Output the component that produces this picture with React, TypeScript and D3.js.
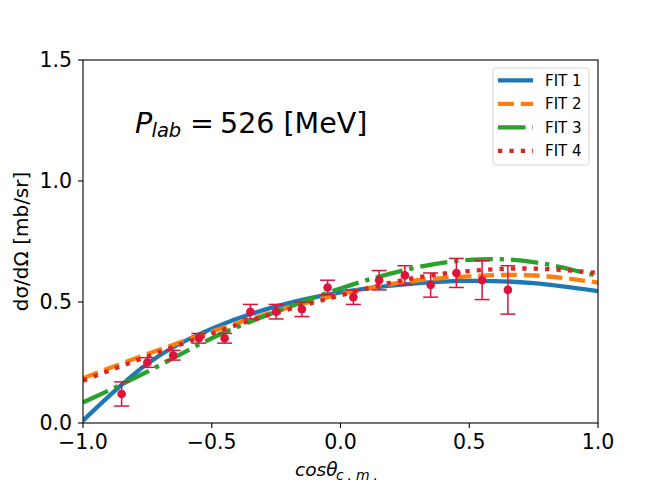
import * as d3 from 'd3';
import React, { useEffect, useRef } from 'react';

// measured points (cos theta, dsigma/dOmega, error)
const pointX = [-0.85, -0.75, -0.65, -0.55, -0.45, -0.35, -0.25, -0.15, -0.05, 0.05, 0.15, 0.25, 0.35, 0.45, 0.55, 0.65];
const pointY = [0.12, 0.25, 0.28, 0.35, 0.35, 0.46, 0.46, 0.47, 0.56, 0.52, 0.59, 0.61, 0.57, 0.62, 0.59, 0.55];
const pointErr = [0.05, 0.02, 0.02, 0.02, 0.02, 0.03, 0.03, 0.03, 0.03, 0.03, 0.04, 0.04, 0.05, 0.06, 0.08, 0.1];

// fit curves at these x values
const fitX = [-1, -0.75, -0.5, -0.25, 0, 0.25, 0.5, 0.75, 1];
const fit1 = [0.01, 0.245, 0.39, 0.482, 0.54, 0.573, 0.587, 0.578, 0.545];
const fit2 = [0.185, 0.285, 0.378, 0.462, 0.533, 0.583, 0.606, 0.61, 0.58];
const fit3 = [0.085, 0.212, 0.35, 0.46, 0.556, 0.632, 0.674, 0.665, 0.607];
const fit4 = [0.175, 0.275, 0.37, 0.455, 0.527, 0.592, 0.628, 0.638, 0.62];

const fitNames = ['FIT 1', 'FIT 2', 'FIT 3', 'FIT 4'];
const xTicks = [-1, -0.5, 0, 0.5, 1];
const yTicks = [0, 0.5, 1, 1.5];

const FONT = 'DejaVu Sans, sans-serif';
const LW = 4.3;
const fitStyles = [
   { color: '#1f77b4', dash: null },
   { color: '#ff7f0e', dash: `${3.7 * LW},${1.6 * LW}` },
   { color: '#2ca02c', dash: `${6.4 * LW},${1.6 * LW},${LW},${1.6 * LW}` },
   { color: '#d62728', dash: `${LW},${1.65 * LW}` },
];

const App = () => {
   const svgRef = useRef<SVGSVGElement | null>(null);

   useEffect(() => {
      const svg = d3.select(svgRef.current);
      svg.selectAll('*').remove();

      const left = 83;
      const right = 598;
      const top = 60;
      const bottom = 423;

      const x = d3.scaleLinear().domain([-1, 1]).range([left, right]);
      const y = d3.scaleLinear().domain([0, 1.5]).range([bottom, top]);

      svg.append('rect').attr('width', 664).attr('height', 498).attr('fill', 'white');

      const plot = svg.append('g');
      plot
         .append('clipPath')
         .attr('id', 'clip')
         .append('rect')
         .attr('x', left)
         .attr('y', top)
         .attr('width', right - left)
         .attr('height', bottom - top);

      // fit curves
      const fits = [fit1, fit2, fit3, fit4];
      const line = d3
         .line<number>()
         .x((_, i) => x(fitX[i]))
         .y((v) => y(v))
         .curve(d3.curveNatural);

      fits.forEach((vals, k) => {
         plot
            .append('path')
            .datum(vals)
            .attr('clip-path', 'url(#clip)')
            .attr('fill', 'none')
            .attr('stroke', fitStyles[k].color)
            .attr('stroke-width', LW)
            .attr('stroke-dasharray', fitStyles[k].dash)
            .attr('d', line);
      });

      // data points with error bars
      const pts = plot.append('g').attr('stroke', '#dc143c').attr('fill', '#dc143c');
      pointX.forEach((px, i) => {
         const cx = x(px);
         const y0 = y(pointY[i] - pointErr[i]);
         const y1 = y(pointY[i] + pointErr[i]);
         pts.append('line').attr('x1', cx).attr('x2', cx).attr('y1', y0).attr('y2', y1).attr('stroke-width', 1.5);
         [y0, y1].forEach((cy) => {
            pts
               .append('line')
               .attr('x1', cx - 7.5)
               .attr('x2', cx + 7.5)
               .attr('y1', cy)
               .attr('y2', cy)
               .attr('stroke-width', 1.5);
         });
         pts.append('circle').attr('cx', cx).attr('cy', y(pointY[i])).attr('r', 4.3).attr('stroke', 'none');
      });

      // axes frame
      svg
         .append('rect')
         .attr('x', left)
         .attr('y', top)
         .attr('width', right - left)
         .attr('height', bottom - top)
         .attr('fill', 'none')
         .attr('stroke', '#000')
         .attr('stroke-width', 1.1);

      const fmt = (v: number) => d3.format('.1f')(v).replace('-', '\u2212');

      xTicks.forEach((t) => {
         svg
            .append('line')
            .attr('x1', x(t))
            .attr('x2', x(t))
            .attr('y1', bottom)
            .attr('y2', bottom + 5)
            .attr('stroke', '#000')
            .attr('stroke-width', 1.1);
         svg
            .append('text')
            .attr('x', x(t))
            .attr('y', 449)
            .attr('text-anchor', 'middle')
            .attr('font-family', FONT)
            .attr('font-size', 20.5)
            .text(fmt(t));
      });

      yTicks.forEach((t) => {
         svg
            .append('line')
            .attr('x1', left - 5)
            .attr('x2', left)
            .attr('y1', y(t))
            .attr('y2', y(t))
            .attr('stroke', '#000')
            .attr('stroke-width', 1.1);
         svg
            .append('text')
            .attr('x', 72)
            .attr('y', y(t) + 7.4)
            .attr('text-anchor', 'end')
            .attr('font-family', FONT)
            .attr('font-size', 20.5)
            .text(fmt(t));
      });

      // axis labels
      svg
         .append('text')
         .attr('transform', `translate(28,${(top + bottom) / 2}) rotate(-90)`)
         .attr('text-anchor', 'middle')
         .attr('font-family', FONT)
         .attr('font-size', 20)
         .text('dσ/dΩ [mb/sr]');

      const xl = svg.append('text').attr('font-family', FONT).attr('font-style', 'italic');
      xl.append('tspan').attr('x', 295).attr('y', 476).attr('font-size', 18.5).text('cosθ');
      xl.append('tspan')
         .attr('x', 336)
         .attr('y', 480)
         .attr('font-size', 14)
         .attr('textLength', 42)
         .attr('lengthAdjust', 'spacing')
         .text('c.m.');

      // annotation
      const ann = svg.append('g').attr('font-family', FONT);
      ann.append('text').attr('x', 135).attr('y', 132.5).attr('font-size', 28.5).attr('font-style', 'italic').text('P');
      ann.append('text').attr('x', 151.5).attr('y', 137).attr('font-size', 19.5).attr('font-style', 'italic').text('lab');
      ann.append('text').attr('x', 190).attr('y', 132.5).attr('font-size', 28.5).text('=');
      ann.append('text').attr('x', 220).attr('y', 132.5).attr('font-size', 28.5).text('526 [MeV]');

      // legend
      const lg = svg.append('g');
      lg.append('rect')
         .attr('x', 493)
         .attr('y', 68)
         .attr('width', 96)
         .attr('height', 97)
         .attr('rx', 3)
         .attr('fill', 'white')
         .attr('fill-opacity', 0.8)
         .attr('stroke', '#d4d4d4')
         .attr('stroke-width', 1);
      fitNames.forEach((name, k) => {
         const cy = 80.3 + k * 23.5;
         lg.append('line')
            .attr('x1', 498)
            .attr('x2', 533)
            .attr('y1', cy)
            .attr('y2', cy)
            .attr('stroke', fitStyles[k].color)
            .attr('stroke-width', LW)
            .attr('stroke-dasharray', fitStyles[k].dash);
         lg.append('text')
            .attr('x', 545)
            .attr('y', cy + 5.5)
            .attr('font-family', FONT)
            .attr('font-size', 15)
            .text(name);
      });
   }, []);

   return (
      <svg
         ref={svgRef}
         width={664}
         height={498}
         style={{ position: 'absolute', left: 0, top: 0, display: 'block' }}
      />
   );
};

export default App;
